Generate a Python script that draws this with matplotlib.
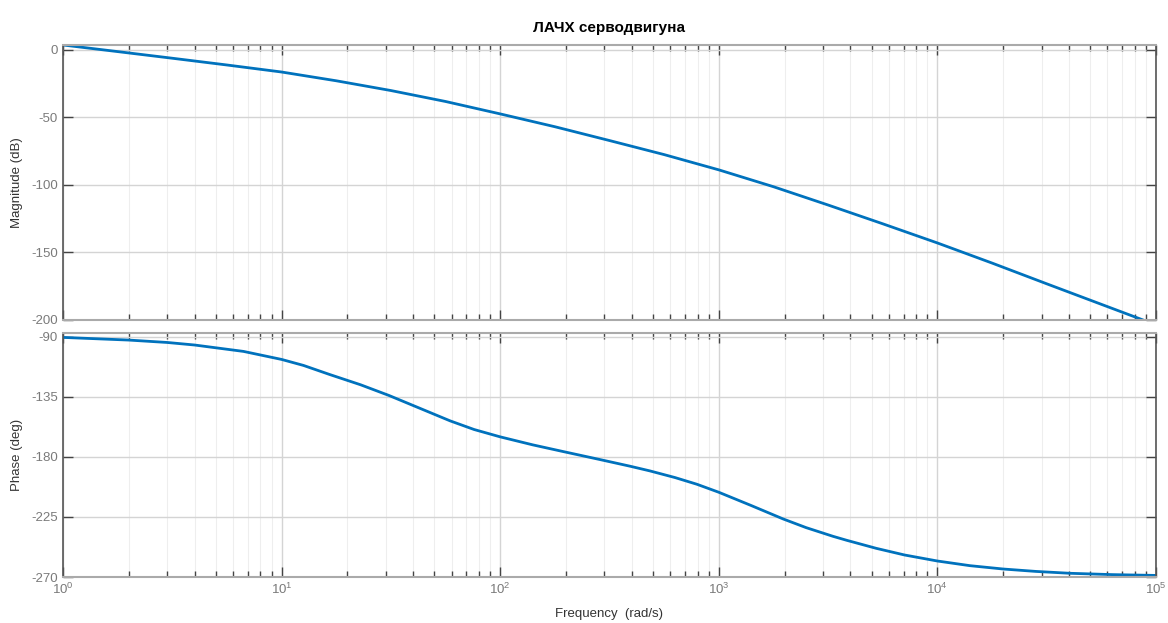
import numpy as np
import matplotlib
matplotlib.use("Agg")
import matplotlib.pyplot as plt
from matplotlib.ticker import LogLocator, NullFormatter, FixedLocator

plt.rcParams['font.family'] = ['Liberation Sans', 'DejaVu Sans']
plt.rcParams['mathtext.fontset'] = 'custom'
plt.rcParams['mathtext.rm'] = 'Liberation Sans'
plt.rcParams['mathtext.it'] = 'Liberation Sans'
plt.rcParams['axes.unicode_minus'] = False

# magnitude response, rad/s -> dB
freq_mag = [1, 1.78, 3.16, 5.62, 10, 17.8, 31.6, 56.2, 100, 178, 316, 562, 1000,
            1780, 3160, 5620, 1e4, 1.78e4, 3.16e4, 5.62e4, 1e5]
mag_db = [3.5, -1.4, -6.3, -11.3, -16.5, -23.0, -30.2, -38.3, -47.5, -57.0,
          -67.2, -77.6, -88.9, -101.4, -114.9, -128.8, -143.0, -157.9, -173.2,
          -188.4, -203.6]

# phase response, rad/s -> deg
freq_ph = [1, 2, 3, 4, 6.7, 10, 12.6, 16.6, 23, 31, 45, 59, 76, 100, 141, 194,
           286, 393, 484, 631, 794, 1000, 1410, 1970, 2510, 3330, 3850, 5250,
           7080, 1e4, 1.41e4, 2e4, 2.82e4, 4.04e4, 6.31e4, 1e5]
phase_deg = [-90.5, -92.5, -94.3, -96.2, -101, -107, -111.5, -118.3, -126,
             -134, -145, -153, -159.5, -165, -171, -176, -182, -187, -190.5,
             -195.5, -200.5, -206.5, -216.5, -226.5, -233, -239.5, -242.5,
             -248.5, -253.5, -258, -261.5, -264, -265.8, -267.2, -268.2, -268.8]

mag_ticks = [0, -50, -100, -150, -200]
ph_ticks = [-90, -135, -180, -225, -270]

blue = '#0072BD'
fig = plt.figure(figsize=(11.68, 6.23), dpi=100)
ax1 = fig.add_axes([0.0539, 0.4864, 0.9358, 0.4414])
ax2 = fig.add_axes([0.0539, 0.0738, 0.9358, 0.3917], sharex=ax1)

ax1.semilogx(freq_mag, mag_db, color=blue, lw=2)
ax2.semilogx(freq_ph, phase_deg, color=blue, lw=2)

ax1.set_ylim(-200, 3.5)
ax2.set_ylim(-270, -87.2)
ax1.set_xlim(1, 1e5)
ax1.yaxis.set_major_locator(FixedLocator(mag_ticks))
ax2.yaxis.set_major_locator(FixedLocator(ph_ticks))

for ax in (ax1, ax2):
    ax.xaxis.set_major_locator(LogLocator(base=10, numticks=10))
    ax.xaxis.set_minor_locator(LogLocator(base=10, subs=np.arange(2, 10), numticks=10))
    ax.xaxis.set_minor_formatter(NullFormatter())
    ax.grid(True, which='major', color='#d4d4d4', lw=1)
    ax.grid(True, which='minor', axis='x', color='#eeeeee', lw=0.8)
    ax.set_axisbelow(True)
    ax.tick_params(which='both', direction='in', top=True, right=True,
                   colors='#444444', labelcolor='#7a7a7a', labelsize=9.5)
    ax.tick_params(which='major', length=7, width=1)
    ax.tick_params(which='minor', length=4, width=1)
    for side in ('left', 'right'):
        ax.spines[side].set_color('#555555')
        ax.spines[side].set_linewidth(1.2)
    for side in ('top', 'bottom'):
        ax.spines[side].set_color('#aaaaaa')
        ax.spines[side].set_linewidth(1.5)

plt.setp(ax1.get_xticklabels(), visible=False)

ax1.set_ylabel('Magnitude (dB)', fontsize=9.5, color='#333333', labelpad=6)
ax2.set_ylabel('Phase (deg)', fontsize=9.5, color='#333333', labelpad=6)
ax2.set_xlabel('Frequency  (rad/s)', fontsize=9.5, color='#333333', labelpad=8)
ax1.set_title('ЛАЧХ серводвигуна', fontsize=11, fontweight='bold', pad=9)

fig.savefig('out.png', dpi=100)
